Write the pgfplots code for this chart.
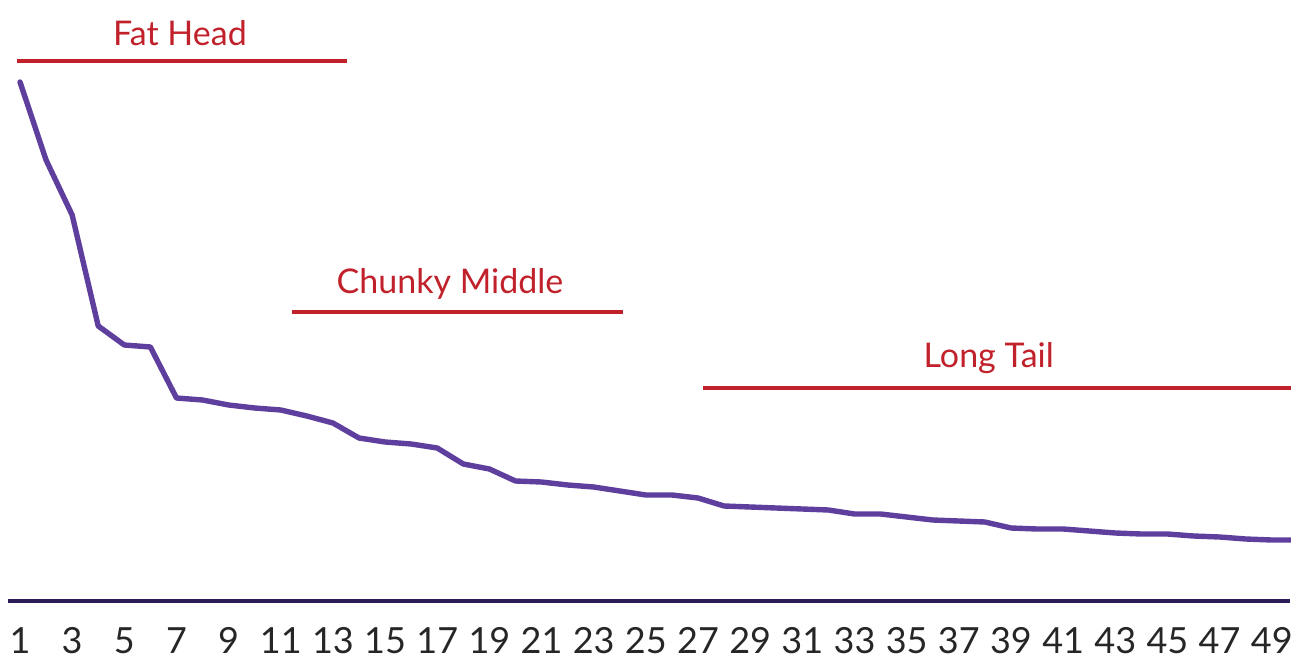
\documentclass[border=0pt]{standalone}
\usepackage{pgfplots}
\pgfplotsset{compat=1.18}
\usepackage{fontspec}
\setmainfont{Lato}
\definecolor{lineP}{HTML}{5F3F9E}
\definecolor{axisP}{HTML}{2D1B5A}
\definecolor{redA}{HTML}{C1212A}
\begin{document}
\begin{tikzpicture}
\begin{axis}[
  scale only axis,
  width=641pt, height=300.5pt,
  xmin=0.54, xmax=49.7,
  ymin=0, ymax=601,
  axis x line=bottom,
  axis y line=none,
  x axis line style={line width=2pt, color=axisP, -},
  xtick={1,3,...,49},
  major tick length=0pt,
  /pgf/number format/assume math mode=true,
  xticklabel style={inner sep=0pt, yshift=-13pt, font=\fontsize{18}{18}\selectfont, text=black!85},
  clip=false,
]
\addplot[line width=2.7pt, color=lineP, line join=round, line cap=round] coordinates {
(1,519)(2,441)(3,386)(4,275)(5,256)(6,254)(7,203)(8,201)(9,196)(10,193)
(11,191)(12,185)(13,178)(14,163)(15,159)(16,157)(17,153)(18,137)(19,132)(20,120)
(21,119)(22,116)(23,114)(24,110)(25,106)(26,106)(27,103)(28,95)(29,94)(30,93)
(31,92)(32,91)(33,87)(34,87)(35,84)(36,81)(37,80)(38,79)(39,73)(40,72)
(41,72)(42,70)(43,68)(44,67)(45,67)(46,65)(47,64)(48,62)(49,61)(50,61)
};
\draw[redA, line width=1.75pt] (axis cs:0.885,540) -- (axis cs:13.54,540);
\draw[redA, line width=1.75pt] (axis cs:11.43,289) -- (axis cs:24.12,289);
\draw[redA, line width=1.75pt] (axis cs:27.19,213) -- (axis cs:49.8,213);
\node[text=redA, font=\fontsize{17}{17}\selectfont] at (axis cs:7.13,568) {Fat Head};
\node[text=redA, font=\fontsize{17}{17}\selectfont] at (axis cs:17.49,317) {Chunky Middle};
\node[text=redA, font=\fontsize{17}{17}\selectfont] at (axis cs:38.15,243) {Long Tail};
\coordinate (LL) at (rel axis cs:0,0);
\coordinate (UR) at (rel axis cs:1,1);
\end{axis}
\pgfresetboundingbox
\path ([shift={(-4pt,-29.5pt)}]LL) rectangle ([shift={(0.5pt,0pt)}]UR);
\end{tikzpicture}
\end{document}
